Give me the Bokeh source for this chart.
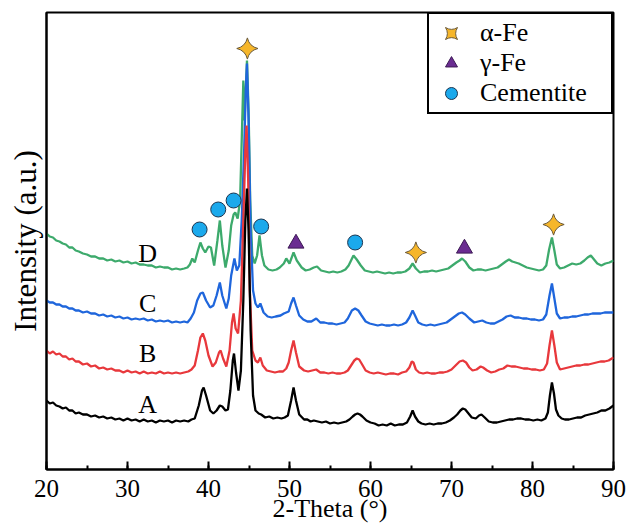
import math

from bokeh.core.properties import value
from bokeh.embed import file_html
from bokeh.models import (ColumnDataSource, FixedTicker, Legend, LegendItem,
                          Range1d, SingleIntervalTicker)
from bokeh.plotting import figure
from bokeh.resources import INLINE

# XRD patterns: (2-theta in degrees, intensity in a.u., already stacked)
PATTERN_A = [
    (20.0, 69), (20.4, 66), (20.8, 67), (21.2, 64), (21.6, 63), (22.0, 61), (22.4, 62), (22.8, 59),
    (23.2, 59), (23.6, 56), (24.0, 57), (24.5, 55), (25.0, 55), (25.5, 53), (26.0, 54), (26.5, 52),
    (27.0, 53), (27.5, 51), (28.0, 52), (28.5, 50), (29.0, 51), (29.5, 49), (30.0, 51), (30.5, 49),
    (31.0, 50), (31.5, 48), (32.0, 50), (32.5, 48), (33.0, 49), (33.5, 47), (34.0, 49), (34.5, 48),
    (35.0, 49), (35.5, 47), (36.0, 49), (36.5, 48), (37.0, 49), (37.5, 48), (37.9, 50), (38.3, 51),
    (38.8, 64), (39.2, 79), (39.4, 82), (39.7, 74), (40.2, 59), (40.6, 56), (41.0, 59), (41.4, 64),
    (41.7, 63), (42.1, 59), (42.4, 60), (42.7, 79), (43.0, 109), (43.15, 116), (43.4, 97), (43.7, 79),
    (44.0, 99), (44.3, 169), (44.55, 249), (44.75, 281), (44.95, 239), (45.2, 139), (45.5, 74),
    (45.8, 59), (46.2, 56), (46.5, 55), (47.0, 52), (47.5, 53), (48.0, 51), (48.5, 52), (49.0, 51),
    (49.4, 52), (49.8, 54), (50.2, 69), (50.5, 82), (50.8, 69), (51.2, 55), (51.8, 50), (52.2, 50),
    (52.6, 48), (53.0, 49), (53.5, 48), (54.0, 47), (54.5, 48), (55.0, 46), (55.5, 47), (56.0, 46),
    (56.5, 47), (57.0, 48), (57.4, 50), (57.8, 53), (58.1, 55), (58.4, 56), (58.7, 55), (59.0, 53),
    (59.5, 49), (60.0, 47), (60.5, 46), (61.0, 44), (61.5, 45), (62.0, 44), (62.5, 46), (63.0, 44),
    (63.5, 45), (64.0, 45), (64.5, 47), (64.9, 53), (65.2, 59), (65.5, 53), (65.9, 48), (66.3, 46),
    (66.8, 45), (67.3, 46), (67.8, 45), (68.3, 46), (68.8, 46), (69.3, 47), (69.8, 49), (70.3, 52),
    (70.7, 55), (71.1, 59), (71.4, 61), (71.7, 60), (72.0, 57), (72.5, 52), (73.0, 51), (73.4, 54),
    (73.7, 55), (74.1, 52), (74.6, 48), (75.1, 47), (75.6, 47), (76.1, 48), (76.6, 49), (77.1, 50),
    (77.6, 50), (78.1, 51), (78.6, 51), (79.1, 50), (79.6, 50), (80.1, 49), (80.6, 50), (81.1, 49),
    (81.6, 51), (81.9, 57), (82.15, 74), (82.4, 87), (82.65, 76), (82.9, 60), (83.2, 54), (83.6, 51),
    (84.0, 50), (84.5, 50), (85.0, 51), (85.5, 52), (86.0, 52), (86.5, 54), (87.0, 55), (87.5, 56),
    (88.0, 57), (88.5, 59), (89.0, 59), (89.5, 61), (90.0, 64),
]

PATTERN_B = [
    (20.0, 119), (20.4, 116), (20.8, 118), (21.2, 115), (21.6, 116), (22.0, 113), (22.4, 113),
    (22.8, 110), (23.2, 111), (23.6, 108), (24.0, 108), (24.5, 105), (25.0, 106), (25.5, 103),
    (26.0, 104), (26.5, 101), (27.0, 102), (27.5, 100), (28.0, 101), (28.5, 99), (29.0, 99),
    (29.5, 97), (30.0, 99), (30.5, 97), (31.0, 98), (31.5, 96), (32.0, 98), (32.5, 96), (33.0, 97),
    (33.5, 96), (34.0, 98), (34.5, 96), (35.0, 97), (35.5, 96), (36.0, 97), (36.5, 96), (37.0, 97),
    (37.5, 98), (37.9, 100), (38.3, 104), (38.7, 119), (39.0, 132), (39.3, 136), (39.6, 129),
    (40.0, 114), (40.5, 103), (40.9, 107), (41.3, 117), (41.5, 119), (41.8, 111), (42.2, 103),
    (42.6, 119), (42.9, 147), (43.1, 156), (43.35, 141), (43.65, 136), (44.0, 169), (44.3, 249),
    (44.55, 319), (44.7, 344), (44.9, 289), (45.1, 179), (45.4, 119), (45.8, 109), (46.1, 107),
    (46.4, 112), (46.7, 104), (47.2, 99), (47.7, 98), (48.2, 97), (48.7, 98), (49.2, 98), (49.6, 101),
    (49.9, 107), (50.2, 119), (50.5, 129), (50.8, 117), (51.2, 103), (51.8, 99), (52.3, 98),
    (52.8, 99), (53.3, 100), (53.8, 97), (54.3, 97), (54.8, 96), (55.3, 97), (55.8, 96), (56.3, 96),
    (56.8, 97), (57.2, 99), (57.6, 104), (58.0, 109), (58.3, 111), (58.6, 110), (58.9, 106),
    (59.4, 99), (59.9, 97), (60.4, 96), (60.9, 97), (61.4, 96), (61.9, 95), (62.4, 96), (62.9, 96),
    (63.4, 95), (63.9, 97), (64.4, 98), (64.8, 102), (65.1, 108), (65.3, 107), (65.6, 100),
    (66.0, 97), (66.5, 96), (67.0, 97), (67.5, 96), (68.0, 96), (68.5, 97), (69.0, 97), (69.5, 98),
    (70.0, 100), (70.5, 104), (71.0, 108), (71.4, 109), (71.8, 107), (72.2, 102), (72.6, 99),
    (73.1, 100), (73.6, 103), (73.9, 102), (74.4, 99), (74.9, 97), (75.4, 98), (75.9, 100),
    (76.4, 101), (76.9, 104), (77.4, 103), (77.9, 103), (78.4, 102), (78.9, 101), (79.4, 101),
    (79.9, 100), (80.4, 100), (80.9, 99), (81.4, 100), (81.8, 106), (82.1, 124), (82.4, 139),
    (82.7, 124), (83.0, 107), (83.4, 100), (83.9, 101), (84.4, 102), (84.9, 103), (85.4, 104),
    (85.9, 104), (86.4, 105), (86.9, 105), (87.4, 106), (87.9, 107), (88.4, 108), (88.9, 108),
    (89.4, 109), (90.0, 112),
]

PATTERN_C = [
    (20.0, 169), (20.4, 167), (20.8, 167), (21.2, 165), (21.6, 165), (22.0, 163), (22.4, 163),
    (22.8, 161), (23.2, 161), (23.6, 159), (24.0, 159), (24.5, 157), (25.0, 158), (25.5, 156),
    (26.0, 156), (26.5, 154), (27.0, 155), (27.5, 153), (28.0, 154), (28.5, 152), (29.0, 153),
    (29.5, 151), (30.0, 152), (30.5, 150), (31.0, 151), (31.5, 150), (32.0, 151), (32.5, 149),
    (33.0, 150), (33.5, 148), (34.0, 149), (34.5, 148), (35.0, 149), (35.5, 147), (36.0, 148),
    (36.5, 147), (37.0, 148), (37.4, 147), (37.8, 151), (38.2, 157), (38.6, 169), (39.0, 176),
    (39.3, 177), (39.7, 169), (40.2, 162), (40.6, 164), (41.0, 174), (41.4, 187), (41.7, 174),
    (42.2, 161), (42.5, 171), (42.8, 194), (43.2, 211), (43.5, 199), (43.8, 204), (44.1, 249),
    (44.4, 319), (44.6, 379), (44.75, 406), (44.95, 349), (45.2, 239), (45.5, 179), (45.8, 166),
    (46.1, 162), (46.4, 166), (46.8, 157), (47.3, 153), (47.8, 152), (48.3, 153), (48.9, 154),
    (49.3, 156), (49.6, 157), (49.9, 158), (50.2, 166), (50.5, 172), (50.8, 164), (51.2, 154),
    (51.7, 150), (52.2, 148), (52.7, 148), (53.3, 151), (53.8, 147), (54.3, 147), (54.8, 146),
    (55.3, 146), (55.8, 145), (56.3, 146), (56.8, 147), (57.2, 151), (57.7, 159), (58.1, 161),
    (58.5, 159), (58.9, 154), (59.4, 148), (59.9, 146), (60.4, 145), (60.9, 144), (61.4, 145),
    (61.9, 144), (62.4, 144), (62.9, 145), (63.4, 144), (63.9, 145), (64.4, 147), (64.8, 152),
    (65.2, 159), (65.5, 154), (65.9, 147), (66.4, 145), (66.9, 144), (67.4, 145), (67.9, 144),
    (68.4, 145), (68.9, 146), (69.4, 147), (69.9, 150), (70.4, 153), (70.9, 156), (71.3, 157),
    (71.7, 155), (72.2, 151), (72.8, 147), (73.3, 148), (73.8, 149), (74.3, 147), (74.8, 146),
    (75.3, 146), (75.8, 148), (76.3, 150), (76.8, 153), (77.3, 154), (77.8, 152), (78.3, 152),
    (78.8, 151), (79.3, 151), (79.8, 150), (80.3, 150), (80.8, 149), (81.3, 150), (81.7, 155),
    (82.1, 174), (82.4, 186), (82.7, 171), (83.0, 156), (83.4, 151), (83.9, 152), (84.4, 152),
    (84.9, 153), (85.4, 153), (85.9, 154), (86.4, 155), (86.9, 155), (87.4, 156), (87.9, 156),
    (88.4, 156), (88.9, 157), (89.4, 157), (90.0, 157),
]

PATTERN_D = [
    (20.0, 236), (20.4, 233), (20.8, 232), (21.2, 229), (21.6, 228), (22.0, 226), (22.4, 225),
    (22.8, 222), (23.2, 222), (23.6, 219), (24.0, 218), (24.5, 216), (25.0, 215), (25.5, 213),
    (26.0, 213), (26.5, 211), (27.0, 211), (27.5, 209), (28.0, 210), (28.5, 208), (29.0, 209),
    (29.5, 207), (30.0, 208), (30.5, 206), (31.0, 207), (31.5, 205), (32.0, 205), (32.5, 204),
    (33.0, 204), (33.5, 202), (34.0, 203), (34.5, 202), (35.0, 202), (35.5, 200), (36.0, 201),
    (36.5, 200), (37.0, 201), (37.4, 202), (37.7, 205), (38.0, 211), (38.3, 207), (38.7, 219),
    (39.0, 227), (39.3, 221), (39.6, 217), (40.0, 223), (40.3, 222), (40.7, 204), (41.1, 229),
    (41.4, 249), (41.7, 224), (42.1, 202), (42.5, 219), (42.8, 244), (43.1, 255), (43.3, 257),
    (43.6, 251), (43.9, 269), (44.1, 329), (44.3, 389), (44.45, 349), (44.6, 379), (44.75, 409),
    (44.95, 359), (45.15, 269), (45.4, 214), (45.7, 206), (46.0, 214), (46.3, 234), (46.6, 214),
    (46.9, 204), (47.4, 200), (47.9, 199), (48.4, 200), (48.8, 202), (49.3, 206), (49.6, 211),
    (50.0, 206), (50.5, 217), (50.9, 209), (51.5, 202), (52.0, 199), (52.5, 200), (53.0, 202),
    (53.4, 203), (53.9, 199), (54.4, 198), (54.9, 197), (55.4, 198), (55.9, 197), (56.4, 198),
    (56.9, 200), (57.3, 204), (57.6, 209), (57.9, 214), (58.3, 210), (58.8, 204), (59.3, 199),
    (59.8, 198), (60.3, 197), (60.8, 198), (61.3, 197), (61.8, 196), (62.3, 197), (62.8, 196),
    (63.3, 197), (63.8, 197), (64.3, 198), (64.8, 201), (65.2, 206), (65.6, 201), (66.1, 197),
    (66.6, 198), (67.1, 198), (67.6, 199), (68.1, 198), (68.6, 199), (69.1, 200), (69.6, 201),
    (70.1, 204), (70.6, 207), (71.0, 209), (71.3, 211), (71.7, 208), (72.2, 202), (72.7, 199),
    (73.2, 200), (73.7, 200), (74.2, 199), (74.7, 200), (75.2, 201), (75.7, 202), (76.2, 205),
    (76.7, 208), (77.1, 210), (77.5, 208), (77.9, 207), (78.3, 206), (78.8, 204), (79.3, 202),
    (79.8, 201), (80.3, 200), (80.8, 199), (81.3, 200), (81.7, 204), (82.05, 220), (82.4, 232),
    (82.7, 219), (83.0, 205), (83.4, 201), (83.9, 202), (84.4, 204), (84.9, 206), (85.4, 205),
    (85.9, 206), (86.4, 209), (86.8, 212), (87.2, 214), (87.6, 210), (88.0, 206), (88.5, 204),
    (89.0, 206), (89.5, 207), (90.0, 209),
]

SAMPLE_NAMES = ["A", "B", "C", "D"]
SAMPLE_COLORS = ["#000000", "#e8383c", "#1f66dc", "#3daa6c"]

# Phase identification markers (2-theta, height in a.u.)
ALPHA_FE = [(44.8, 421), (65.6, 217), (82.6, 245)]
GAMMA_FE = [(50.8, 226), (71.6, 221)]
CEMENTITE = [(38.9, 240), (41.2, 260), (43.1, 269), (46.5, 243), (58.1, 227)]

# Sample names written beside each trace
NAME_X = [32.5, 32.5, 32.5, 32.5]
NAME_Y = [65, 116, 166, 216]

SERIF = "Liberation Serif"

p = figure(
    frame_width=567, frame_height=457,
    x_range=Range1d(20, 90), y_range=Range1d(0, 457),
    output_backend="svg", toolbar_location=None,
    min_border_left=46, min_border_right=17, min_border_top=12, min_border_bottom=62,
    background_fill_color="white", border_fill_color="white",
)
p.grid.visible = False
p.outline_line_color = "black"
p.outline_line_width = 2

xa = p.xaxis[0]
xa.ticker = SingleIntervalTicker(interval=10, num_minor_ticks=2)
xa.axis_line_width = 2
xa.major_tick_in = 8
xa.major_tick_out = 0
xa.minor_tick_in = 4
xa.minor_tick_out = 0
xa.major_tick_line_width = 2
xa.minor_tick_line_width = 2
xa.major_label_text_font = SERIF
xa.major_label_text_font_size = "25px"
xa.major_label_text_color = "black"
xa.major_label_standoff = 10
xa.axis_label = "2-Theta (°)"
xa.axis_label_text_font = SERIF
xa.axis_label_text_font_size = "26px"
xa.axis_label_text_font_style = "normal"
xa.axis_label_text_color = "black"
xa.axis_label_standoff = -6

ya = p.yaxis[0]
ya.ticker = FixedTicker(ticks=[])
ya.axis_line_width = 2
ya.major_tick_line_color = None
ya.minor_tick_line_color = None
ya.major_label_text_font_size = "0px"
ya.axis_label = "Intensity (a.u.)"
ya.axis_label_text_font = SERIF
ya.axis_label_text_font_size = "31px"
ya.axis_label_text_font_style = "normal"
ya.axis_label_text_color = "black"
ya.axis_label_standoff = 4

# Traces: D drawn first so A ends up on top at the main reflection
patterns = [PATTERN_A, PATTERN_B, PATTERN_C, PATTERN_D]
for pts, color in reversed(list(zip(patterns, SAMPLE_COLORS))):
    tt, inten = zip(*pts)
    p.line(list(tt), list(inten), line_color=color, line_width=2.3)

p.text(x=NAME_X, y=NAME_Y, text=SAMPLE_NAMES, text_font=value(SERIF),
       text_font_size="26px", text_align="center", text_baseline="middle",
       text_color="black")


def split(pairs):
    xs, ys = zip(*pairs)
    return dict(x=list(xs), y=list(ys))


r_alpha = p.scatter("x", "y", source=ColumnDataSource(split(ALPHA_FE)),
                    marker="square_pin", angle=math.pi / 4, size=15,
                    fill_color="#f6b62a", line_color="#6b5a3a", line_width=1)
r_gamma = p.scatter("x", "y", source=ColumnDataSource(split(GAMMA_FE)),
                    marker="triangle", size=16,
                    fill_color="#6a2c91", line_color="#3d1a55", line_width=1)
r_cem = p.scatter("x", "y", source=ColumnDataSource(split(CEMENTITE)),
                  marker="circle", size=15,
                  fill_color="#1ba9ec", line_color="#1c3550", line_width=1)

legend = Legend(
    items=[LegendItem(label="α-Fe", renderers=[r_alpha]),
           LegendItem(label="γ-Fe", renderers=[r_gamma]),
           LegendItem(label="Cementite", renderers=[r_cem])],
    location="top_right", margin=0, padding=4, spacing=-1,
    glyph_width=36, glyph_height=30, label_standoff=11, label_width=127,
    label_text_font=SERIF, label_text_font_size="26px", label_text_color="black",
    border_line_color="black", border_line_width=2, border_line_alpha=1,
    background_fill_color="white", background_fill_alpha=1,
)
p.add_layout(legend)

open("out.html", "w").write(file_html(p, INLINE))
